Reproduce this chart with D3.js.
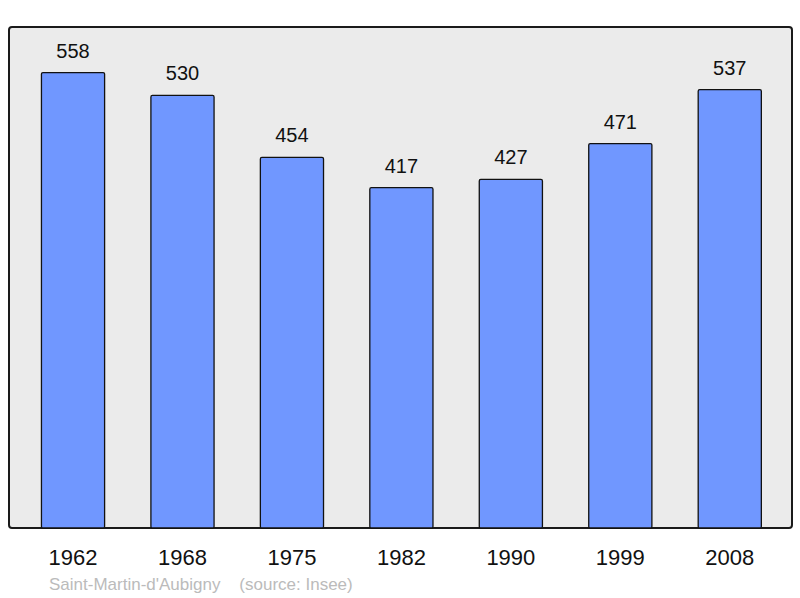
<!DOCTYPE html>
<html><head><meta charset="utf-8">
<script src="https://cdn.jsdelivr.net/npm/d3@7"></script>
<style>body{margin:0;background:#fff}svg{display:block;font-family:"Liberation Sans",Arial,sans-serif}</style>
</head><body><svg id="c" width="800" height="598"></svg>
<script>
const years = ["1962","1968","1975","1982","1990","1999","2008"];
const population = [558,530,454,417,427,471,537];
const caption = "Saint-Martin-d'Aubigny    (source: Insee)";

const svg = d3.select("#c");
const frame = {x0:9, y0:27, x1:792, y1:528};
svg.append("rect").attr("x",frame.x0).attr("y",frame.y0)
  .attr("width",frame.x1-frame.x0).attr("height",frame.y1-frame.y0)
  .attr("rx",3).attr("fill","#ebebeb").attr("stroke","#1a1a1a").attr("stroke-width",2);

const x = d3.scaleBand().domain(years).range([18.3,784.5]).paddingInner(0.423).paddingOuter(0.2115);
const y = d3.scaleLinear().domain([0, 558*1.1]).range([frame.y1, frame.y0]);

svg.selectAll("rect.bar").data(population).join("rect").attr("class","bar")
  .attr("x",(d,i)=>x(years[i])).attr("width",x.bandwidth())
  .attr("y",d=>y(d)).attr("height",d=>frame.y1-y(d))
  .attr("rx",1.5)
  .attr("fill","#7097ff").attr("stroke","#111").attr("stroke-width",1.3);

svg.selectAll("text.val").data(population).join("text").attr("class","val")
  .attr("x",(d,i)=>x(years[i])+x.bandwidth()/2).attr("y",d=>y(d)-15)
  .attr("text-anchor","middle").attr("font-size",20).attr("fill","#111").text(d=>d);

svg.selectAll("text.yr").data(years).join("text").attr("class","yr")
  .attr("x",d=>x(d)+x.bandwidth()/2).attr("y",564.5)
  .attr("text-anchor","middle").attr("font-size",22).attr("fill","#111").text(d=>d);

svg.append("text").attr("x",49).attr("y",590).attr("font-size",17)
  .attr("fill","#bbbbbb").attr("xml:space","preserve").style("white-space","pre").text(caption);
</script></body></html>
